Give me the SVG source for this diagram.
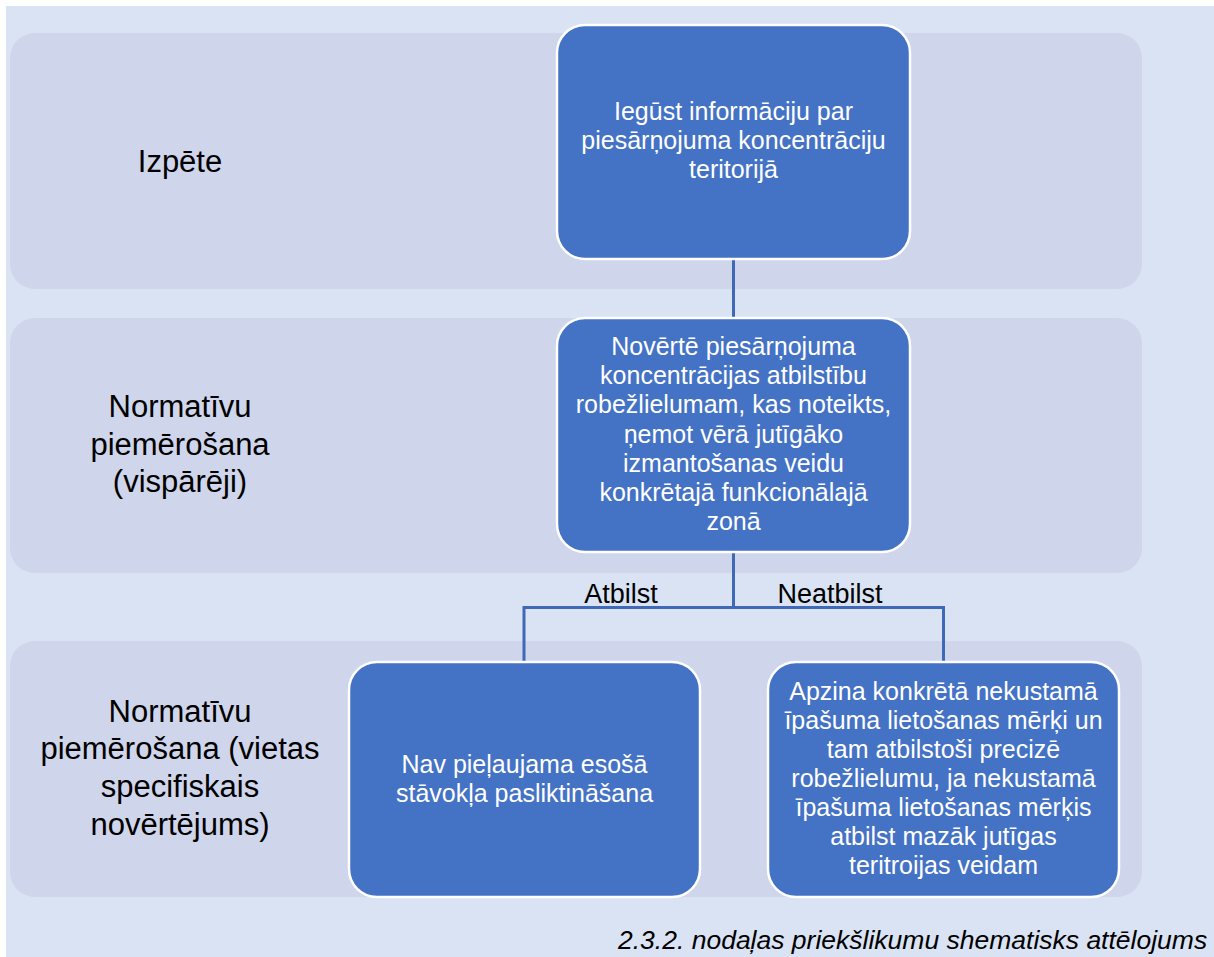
<svg xmlns="http://www.w3.org/2000/svg" width="1214" height="957" viewBox="0 0 1214 957">
  <style>
    .band { fill: #CFD5EA; }
    .node rect { fill: #4472C4; stroke: #FFFFFF; stroke-width: 2.5; }
    .nt { font-family: "Liberation Sans", Arial, sans-serif; font-size: 25px; fill: #FFFFFF; text-anchor: middle; }
    .lt { font-family: "Liberation Sans", Arial, sans-serif; font-size: 31px; fill: #000000; text-anchor: middle; }
    .cl { font-family: "Liberation Sans", Arial, sans-serif; font-size: 27px; fill: #000000; text-anchor: middle; }
    .conn { fill: none; stroke: #3F69B6; stroke-width: 3; }
    .cap { font-family: "Liberation Sans", Arial, sans-serif; font-size: 26.5px; font-style: italic; fill: #000000; }
  </style>
  <rect x="0" y="0" width="1214" height="957" fill="#FFFFFF"/>
  <rect x="6" y="6" width="1208" height="951" fill="#DAE3F3"/>

  <g id="band-izpete">
    <rect class="band" x="10" y="33" width="1132" height="256" rx="25"/>
    <text class="lt" x="180" y="172">Izpēte</text>
  </g>
  <g id="band-vispareji">
    <rect class="band" x="10" y="318" width="1132" height="255" rx="25"/>
    <text class="lt" x="180" y="417">Normatīvu</text>
    <text class="lt" x="180" y="455">piemērošana</text>
    <text class="lt" x="180" y="492">(vispārēji)</text>
  </g>
  <g id="band-vietas">
    <rect class="band" x="10" y="641" width="1132" height="256" rx="25"/>
    <text class="lt" x="180" y="722">Normatīvu</text>
    <text class="lt" x="180" y="759">piemērošana (vietas</text>
    <text class="lt" x="180" y="797">specifiskais</text>
    <text class="lt" x="180" y="835">novērtējums)</text>
  </g>

  <g id="connectors">
    <line class="conn" x1="733.5" y1="259" x2="733.5" y2="318"/>
    <polyline class="conn" points="524,662 524,607.5 943.5,607.5 943.5,662"/>
    <line class="conn" x1="733.5" y1="552" x2="733.5" y2="607.5"/>
    <text class="cl" x="621" y="603">Atbilst</text>
    <text class="cl" x="830" y="603">Neatbilst</text>
  </g>

  <g id="node-iegust" class="node">
    <rect x="557" y="25" width="353" height="234" rx="28"/>
    <text class="nt" x="733.5" y="120">Iegūst informāciju par</text>
    <text class="nt" x="733.5" y="149">piesārņojuma koncentrāciju</text>
    <text class="nt" x="733.5" y="178">teritorijā</text>
  </g>
  <g id="node-noverte" class="node">
    <rect x="557" y="318" width="353" height="234" rx="28"/>
    <text class="nt" x="733.5" y="355">Novērtē piesārņojuma</text>
    <text class="nt" x="733.5" y="384">koncentrācijas atbilstību</text>
    <text class="nt" x="733.5" y="413">robežlielumam, kas noteikts,</text>
    <text class="nt" x="733.5" y="443">ņemot vērā jutīgāko</text>
    <text class="nt" x="733.5" y="472">izmantošanas veidu</text>
    <text class="nt" x="733.5" y="501">konkrētajā funkcionālajā</text>
    <text class="nt" x="733.5" y="530">zonā</text>
  </g>
  <g id="node-nav" class="node">
    <rect x="349" y="662" width="351" height="235" rx="28"/>
    <text class="nt" x="524.5" y="773">Nav pieļaujama esošā</text>
    <text class="nt" x="524.5" y="802">stāvokļa pasliktināšana</text>
  </g>
  <g id="node-apzina" class="node">
    <rect x="768" y="662" width="351" height="235" rx="28"/>
    <text class="nt" x="943.5" y="700">Apzina konkrētā nekustamā</text>
    <text class="nt" x="943.5" y="729">īpašuma lietošanas mērķi un</text>
    <text class="nt" x="943.5" y="758">tam atbilstoši precizē</text>
    <text class="nt" x="943.5" y="787">robežlielumu, ja nekustamā</text>
    <text class="nt" x="943.5" y="816">īpašuma lietošanas mērķis</text>
    <text class="nt" x="943.5" y="845">atbilst mazāk jutīgas</text>
    <text class="nt" x="943.5" y="874">teritroijas veidam</text>
  </g>

  <text class="cap" x="618" y="949">2.3.2. nodaļas priekšlikumu shematisks attēlojums</text>
</svg>
